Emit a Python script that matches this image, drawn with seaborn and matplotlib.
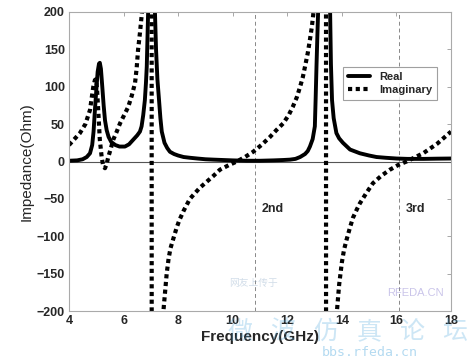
import numpy as np
import pandas as pd
import matplotlib
matplotlib.use("Agg")
import matplotlib.pyplot as plt
import seaborn as sns

# ---- data ----
real_freq = [4.0, 4.3, 4.5, 4.65, 4.77, 4.85, 4.9, 4.95, 5.0, 5.05, 5.1, 5.13, 5.17, 5.22,
             5.27, 5.32, 5.38, 5.45, 5.55, 5.7, 5.85, 6.05, 6.2, 6.35, 6.5, 6.6, 6.66, 6.72,
             6.78, 6.82, 6.85, 6.9, 6.97, 7.03, 7.09, 7.15, 7.19, 7.24, 7.3, 7.35, 7.4, 7.5,
             7.6, 7.7, 7.85, 8.0, 8.2, 8.43, 8.7, 9.0, 9.3, 9.64, 10.0, 10.5, 11.0, 11.5,
             11.85, 12.1, 12.3, 12.47, 12.65, 12.75, 12.83, 12.93, 13.01, 13.04, 13.07, 13.1,
             13.13, 13.2, 13.3, 13.38, 13.46, 13.53, 13.57, 13.6, 13.64, 13.7, 13.8, 13.9,
             14.04, 14.3, 14.66, 15.0, 15.27, 15.6, 16.0, 16.4, 17.0, 17.5, 18.0]
real_vals = [1, 1.5, 3, 6, 11, 22, 40, 69, 95, 120, 131, 132, 124, 100,
             75, 55, 42, 33, 26, 22, 20, 20, 23, 29, 35, 40, 47, 62,
             82, 105, 127, 200, 400, 500, 400, 200, 150, 110, 82, 58, 40, 25,
             18, 13, 10, 8, 6, 5, 4, 3, 2.5, 2, 1.5, 1, 1, 1.5,
             2, 2.5, 3.5, 6, 10, 14, 20, 30, 47, 85, 127, 165,
             200, 450, 700, 800, 700, 450, 200, 130, 82, 58, 38, 31,
             25, 16, 11, 8, 6, 5, 4, 3.5, 3.5, 3.8, 4]

imag_freq = [4.0, 4.2, 4.4, 4.6, 4.77, 4.89, 4.95, 4.99, 5.03, 5.07, 5.13, 5.2, 5.26,
             5.32, 5.38, 5.44, 5.53, 5.62, 5.75, 5.87, 6.02, 6.17, 6.3, 6.42, 6.48, 6.53,
             6.6, 6.67, 6.75, 6.85, 6.95, 7.02, 7.04, 7.1, 7.25, 7.38, 7.46, 7.52, 7.58,
             7.65, 7.72, 7.85, 7.95, 8.05, 8.2, 8.43, 8.6, 8.8, 9.05, 9.3, 9.53, 9.85,
             10.15, 10.45, 10.75, 11.05, 11.37, 11.6, 11.85, 12.05, 12.2, 12.35, 12.47,
             12.57, 12.65, 12.75, 12.83, 12.9, 12.95, 13.02, 13.15, 13.3, 13.41, 13.43,
             13.55, 13.7, 13.82, 13.9, 14.0, 14.08, 14.17, 14.3, 14.41, 14.55, 14.66, 14.9,
             15.14, 15.45, 15.76, 16.05, 16.37, 16.7, 16.98, 17.5, 18.0]
imag_vals = [22, 30, 38, 50, 69, 100, 109, 110, 95, 69, 29, 5, -7,
             -9, -3, 6, 17, 29, 40, 51, 62, 73, 88, 105, 125, 149,
             172, 198, 250, 350, 800, 3000, -3000, -1000, -450, -270, -200, -175, -150,
             -130, -116, -100, -88, -78, -66, -50, -43, -35, -27, -19, -11, -5,
             0, 6, 13, 22, 33, 42, 51, 62, 73, 86, 100,
             113, 127, 145, 163, 180, 196, 230, 320, 700, 3000, -3000,
             -700, -300, -200, -165, -135, -118, -105, -88, -75, -64, -56, -42,
             -29, -19, -11, -5, 0, 6, 11, 24, 40]

x_ticks = [4, 6, 8, 10, 12, 14, 16, 18]
y_ticks = [-200, -150, -100, -50, 0, 50, 100, 150, 200]
harmonic_x = [10.8, 16.1]
harmonic_labels = ["2nd", "3rd"]

df = pd.concat([
    pd.DataFrame({"Frequency": real_freq, "Impedance": real_vals, "Part": "Real"}),
    pd.DataFrame({"Frequency": imag_freq, "Impedance": imag_vals, "Part": "Imaginary"}),
], ignore_index=True)

sns.set_style("white")
plt.rcParams["font.family"] = ["Liberation Sans", "Noto Sans CJK SC", "DejaVu Sans"]

fig = plt.figure(figsize=(4.7, 3.62), dpi=100)
ax = fig.add_axes([69/470, 1-311/362, (451-69)/470, (311-12)/362])

sns.lineplot(data=df[df.Part == "Real"], x="Frequency", y="Impedance", ax=ax,
             color="black", linewidth=2.8, label="Real", sort=False, estimator=None)
sns.lineplot(data=df[df.Part == "Imaginary"], x="Frequency", y="Impedance", ax=ax,
             color="black", linewidth=3.0, label="Imaginary", sort=False, estimator=None,
             linestyle=(0, (1, 0.85)))
for l in ax.get_lines():
    l.set_dash_capstyle("butt")
    l.set_solid_joinstyle("round")

ax.axhline(0, color="#555555", linewidth=0.8, zorder=1)
for hx, lab in zip(harmonic_x, harmonic_labels):
    ax.axvline(hx, color="#888888", linewidth=0.7, linestyle=(0, (4, 3)), zorder=1)
    ax.text(hx + 0.25, -64, lab, fontsize=9, fontweight="bold", va="center", ha="left")

ax.set_xlim(4, 18)
ax.set_ylim(-200, 200)
ax.set_xticks(x_ticks)
ax.set_yticks(y_ticks)
ax.tick_params(direction="in", top=True, right=True, length=3, width=0.6,
               color="#999999", labelsize=9, pad=3)
for t in ax.get_xticklabels() + ax.get_yticklabels():
    t.set_fontweight("bold")
for s in ax.spines.values():
    s.set_color("#aaaaaa")
    s.set_linewidth(0.8)

ax.set_xlabel("Frequency(GHz)", fontsize=11, fontweight="bold", labelpad=2)
ax.set_ylabel("Impedance(Ohm)", fontsize=11, labelpad=2)

leg = ax.legend(loc="upper right", bbox_to_anchor=(0.979, 0.836), fontsize=8,
                frameon=True, fancybox=False, handlelength=2.0, borderpad=0.45,
                labelspacing=0.3, handletextpad=0.8)
leg.get_frame().set_edgecolor("#888888")
leg.get_frame().set_linewidth(0.8)
for t in leg.get_texts():
    t.set_fontweight("bold")

# faint watermark
wm = "#5aaee0"
fig.text(254/470, 1-283/362, "网友上传于", fontsize=7, color="#7f9fc0", alpha=0.35,
         ha="center", va="center", family=["Noto Sans CJK SC"])
fig.text(415/470, 1-293/362, "RFEDA.CN", fontsize=8, color="#8a7fd0", alpha=0.45,
         ha="center", va="center")
for i, ch in enumerate("微波仿真论坛"):
    fig.text((240 + i * 43)/470, 1-332/362, ch, fontsize=18, color=wm, alpha=0.3,
             ha="center", va="center", family=["Noto Sans CJK SC"])
fig.text(370/470, 1-353/362, "bbs.rfeda.cn", fontsize=9.5, color=wm, alpha=0.45,
         ha="center", va="center", family=["DejaVu Sans Mono"])

fig.savefig("out.png", dpi=100)
